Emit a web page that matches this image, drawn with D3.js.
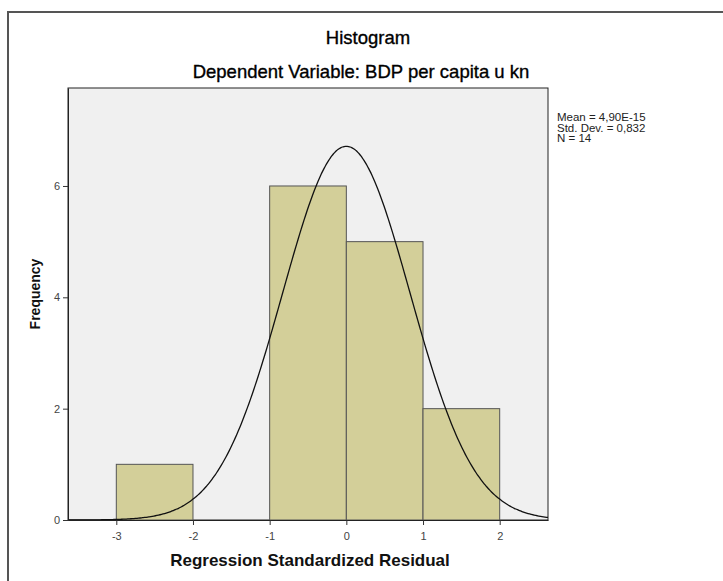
<!DOCTYPE html>
<html>
<head>
<meta charset="utf-8">
<script src="https://cdn.jsdelivr.net/npm/d3@7"></script>
<style>
  body { margin: 0; background: #fff; }
  text { font-family: "Liberation Sans", Arial, sans-serif; }
</style>
</head>
<body>
<div id="chart"></div>
<script>
// histogram bins (lower edge, upper edge, count)
var binStart = [-3, -1, 0, 1];
var binEnd   = [-2, 0, 1, 2];
var counts   = [1, 6, 5, 2];
var yTicks = [0, 2, 4, 6];
var xTicks = [-3, -2, -1, 0, 1, 2];

// summary statistics shown in the legend
var mean = 4.90e-15, stdDev = 0.832, n = 14, binWidth = 1;
var statLines = ["Mean = 4,90E-15", "Std. Dev. = 0,832", "N = 14"];

var W = 723, H = 581;
var margin = {top: 88, right: 175, bottom: 61, left: 68},
  width = W - margin.left - margin.right,
  height = H - margin.top - margin.bottom;

var svg = d3.select("#chart").append("svg")
  .attr("width", W).attr("height", H);

// outer frame
svg.append("path")
  .attr("d", "M8," + H + " V12 H" + W)
  .attr("fill", "none").attr("stroke", "#555").attr("stroke-width", 2);

var g = svg.append("g")
  .attr("transform", "translate(" + margin.left + "," + margin.top + ")");

var x = d3.scaleLinear().domain([-3.63, 2.63]).range([0, width]);
var y = d3.scaleLinear().domain([0, 7.76]).range([height, 0]);

// plot background
g.append("rect")
  .attr("width", width).attr("height", height)
  .attr("fill", "#f0f0f0").attr("stroke", "#222").attr("stroke-width", 1);

// bars
var bins = counts.map(function(c, i) { return {x0: binStart[i], x1: binEnd[i], n: c}; });
g.selectAll("rect.bar")
  .data(bins).enter()
  .append("rect")
    .attr("class", "bar")
    .attr("x", function(d) { return x(d.x0); })
    .attr("y", function(d) { return y(d.n); })
    .attr("width", function(d) { return x(d.x1) - x(d.x0); })
    .attr("height", function(d) { return height - y(d.n); })
    .attr("fill", "#d3cf99")
    .attr("stroke", "#555")
    .attr("stroke-width", 1);

// normal curve from mean / sd / N
var xs = d3.range(-3.63, 2.631, 0.02);
var curve = d3.line()
  .x(function(v) { return x(v); })
  .y(function(v) {
    var z = (v - mean) / stdDev;
    return y(n * binWidth / (stdDev * Math.sqrt(2 * Math.PI)) * Math.exp(-0.5 * z * z));
  })
  .curve(d3.curveBasis);
g.append("path")
  .attr("d", curve(xs))
  .attr("fill", "none").attr("stroke", "#111").attr("stroke-width", 1.3);

// axes (plain hyphen minus like the original)
var fmt = function(d) { return String(d); };
var xAxis = g.append("g")
  .attr("transform", "translate(0," + height + ")")
  .call(d3.axisBottom(x).tickValues(xTicks).tickFormat(fmt).tickSize(5).tickSizeOuter(0));
var yAxis = g.append("g")
  .call(d3.axisLeft(y).tickValues(yTicks).tickFormat(fmt).tickSize(5).tickSizeOuter(0));
[xAxis, yAxis].forEach(function(a) {
  a.select(".domain").attr("stroke", "#222");
  a.selectAll(".tick line").attr("stroke", "#333");
  a.selectAll(".tick text")
    .attr("fill", "#444")
    .style("font-family", "'Liberation Sans', Arial, sans-serif")
    .style("font-size", "11px");
});
xAxis.selectAll(".tick text").attr("dy", "1.05em");

// titles
svg.append("text")
  .attr("x", 368).attr("y", 44)
  .attr("text-anchor", "middle")
  .style("font-size", "18.5px").attr("fill", "#000")
  .attr("stroke", "#000").attr("stroke-width", 0.35)
  .text("Histogram");
svg.append("text")
  .attr("x", 361).attr("y", 78)
  .attr("text-anchor", "middle")
  .style("font-size", "18.5px").attr("fill", "#000")
  .attr("stroke", "#000").attr("stroke-width", 0.35)
  .text("Dependent Variable: BDP per capita u kn");

svg.append("text")
  .attr("x", 310).attr("y", 566)
  .attr("text-anchor", "middle")
  .style("font-size", "17px").style("font-weight", "bold").attr("fill", "#111")
  .text("Regression Standardized Residual");
svg.append("text")
  .attr("transform", "translate(40,294) rotate(-90)")
  .attr("text-anchor", "middle")
  .style("font-size", "14px").style("font-weight", "bold").attr("fill", "#111")
  .text("Frequency");

// stats legend
svg.selectAll("text.stat")
  .data(statLines).enter()
  .append("text")
    .attr("class", "stat")
    .attr("x", 557)
    .attr("y", function(d, i) { return 121 + i * 10.5; })
    .style("font-size", "11.5px").attr("fill", "#222")
    .text(function(d) { return d; });
</script>
</body>
</html>
